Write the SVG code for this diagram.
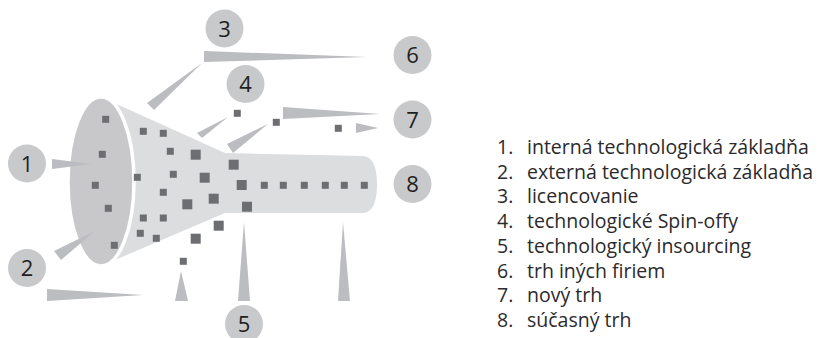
<svg xmlns="http://www.w3.org/2000/svg" width="824" height="338" viewBox="0 0 824 338">
<style>
.c{fill:#c8c9cb}
.n{font-family:"Open Sans","Noto Sans",sans-serif;font-size:22px;fill:#231f20;text-anchor:middle}
.w{fill:#bcbdc0}
.d{fill:#6d6e71}
.t{font-family:"Open Sans","Noto Sans",sans-serif;font-size:19.5px;fill:#2b2a2c}
</style>
<rect width="824" height="338" fill="#fff"/>
<g id="funnel">
<path d="M101,97 L225,153 L364,156 Q377,158 377,184.5 Q377,211 364,213 L225,213 L101,266 Z" fill="#dcdddf"/>
<ellipse cx="101" cy="181.5" rx="33" ry="84.5" fill="#c8c8ca" stroke="#fff" stroke-width="3.5"/>
</g>
<g id="connectors">
<polygon class="w" points="204,51 204,62 367,57"/>
<polygon class="w" points="147,103 154,110 202,63"/>
<polygon class="w" points="283,107 283,119 380,114"/>
<polygon class="w" points="356,123 356,133 378,128"/>
<polygon class="w" points="197,133 202,138 228,117"/>
<polygon class="w" points="227,144 233,153 268,124"/>
<polygon class="w" points="52,159 52,169 92,164"/>
<polygon class="w" points="54,251 61,260 95,231"/>
<polygon class="w" points="47,289 47,301 143,295"/>
<polygon class="w" points="175,301 188,301 181,271"/>
<polygon class="w" points="238,301 250,301 244,222"/>
<polygon class="w" points="338,301 350,301 343,222"/>
</g>
<g id="dots">
<rect class="d" x="102.2" y="115.8" width="7" height="7"/>
<rect class="d" x="98.8" y="150.8" width="7" height="7"/>
<rect class="d" x="91.8" y="181.8" width="7" height="7"/>
<rect class="d" x="104.8" y="204.8" width="7" height="7"/>
<rect class="d" x="110.8" y="241.8" width="7" height="7"/>
<rect class="d" x="139.8" y="127.8" width="7" height="7"/>
<rect class="d" x="159.8" y="129.8" width="7" height="7"/>
<rect class="d" x="166.8" y="147.8" width="7" height="7"/>
<rect class="d" x="190.7" y="149.7" width="10" height="10"/>
<rect class="d" x="133.8" y="173.8" width="7" height="7"/>
<rect class="d" x="169.8" y="170.8" width="7" height="7"/>
<rect class="d" x="199.7" y="172.7" width="10" height="10"/>
<rect class="d" x="159.8" y="188.8" width="7" height="7"/>
<rect class="d" x="182.3" y="199.3" width="10" height="10"/>
<rect class="d" x="208.7" y="193.7" width="10" height="10"/>
<rect class="d" x="139.8" y="214.5" width="7" height="7"/>
<rect class="d" x="159.8" y="214.5" width="7" height="7"/>
<rect class="d" x="136.8" y="229.8" width="7" height="7"/>
<rect class="d" x="152.8" y="234.8" width="7" height="7"/>
<rect class="d" x="190.7" y="233.7" width="10" height="10"/>
<rect class="d" x="213.7" y="220.7" width="10" height="10"/>
<rect class="d" x="179.8" y="257.8" width="7" height="7"/>
<rect class="d" x="233.8" y="109.8" width="7" height="7"/>
<rect class="d" x="272.8" y="118.8" width="7" height="7"/>
<rect class="d" x="334.8" y="124.8" width="7" height="7"/>
<rect class="d" x="228.7" y="159.7" width="10" height="10"/>
<rect class="d" x="236.7" y="180" width="10" height="10"/>
<rect class="d" x="242" y="201.7" width="10" height="10"/>
<rect class="d" x="260.8" y="181.8" width="7" height="7"/>
<rect class="d" x="279.8" y="181.8" width="7" height="7"/>
<rect class="d" x="300.8" y="181.8" width="7" height="7"/>
<rect class="d" x="321.8" y="181.8" width="7" height="7"/>
<rect class="d" x="340.8" y="181.8" width="7" height="7"/>
<rect class="d" x="360.8" y="181.8" width="7" height="7"/>
</g>
<g id="n1"><circle class="c" cx="27" cy="163.5" r="19"/><text class="n" x="27" y="171.5">1</text></g>
<g id="n2"><circle class="c" cx="27" cy="268" r="19"/><text class="n" x="27" y="276">2</text></g>
<g id="n3"><circle class="c" cx="224.5" cy="28.5" r="19"/><text class="n" x="224.5" y="36.5">3</text></g>
<g id="n4"><circle class="c" cx="245.5" cy="84" r="19"/><text class="n" x="245.5" y="92">4</text></g>
<g id="n5"><circle class="c" cx="244" cy="324" r="19"/><text class="n" x="244" y="332">5</text></g>
<g id="n6"><circle class="c" cx="412.5" cy="55" r="19"/><text class="n" x="412.5" y="63">6</text></g>
<g id="n7"><circle class="c" cx="412.5" cy="119.5" r="19"/><text class="n" x="412.5" y="127.5">7</text></g>
<g id="n8"><circle class="c" cx="412.5" cy="184" r="19"/><text class="n" x="412.5" y="192">8</text></g>
<g id="legend">
<text class="t" x="497" y="154">1.</text><text class="t" x="527" y="154">interná technologická základňa</text>
<text class="t" x="497" y="178.7">2.</text><text class="t" x="527" y="178.7">externá technologická základňa</text>
<text class="t" x="497" y="203.4">3.</text><text class="t" x="527" y="203.4">licencovanie</text>
<text class="t" x="497" y="228">4.</text><text class="t" x="527" y="228">technologické Spin-offy</text>
<text class="t" x="497" y="252.8">5.</text><text class="t" x="527" y="252.8">technologický insourcing</text>
<text class="t" x="497" y="277.5">6.</text><text class="t" x="527" y="277.5">trh iných firiem</text>
<text class="t" x="497" y="302">7.</text><text class="t" x="527" y="302">nový trh</text>
<text class="t" x="497" y="326.8">8.</text><text class="t" x="527" y="326.8">súčasný trh</text>
</g>
</svg>
